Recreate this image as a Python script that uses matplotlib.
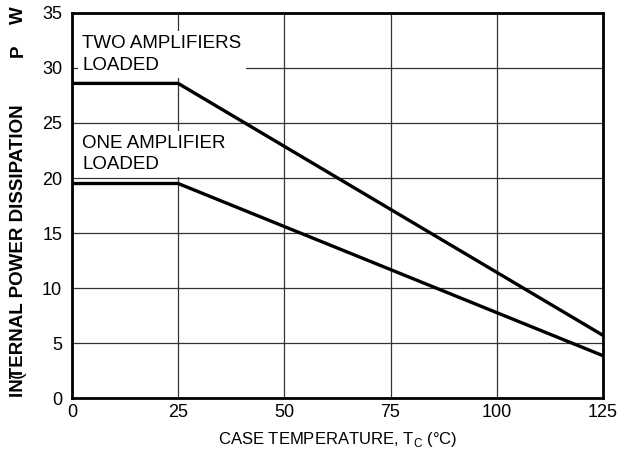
import numpy as np
import matplotlib.pyplot as plt

plt.rcParams['font.family'] = ['Liberation Sans', 'DejaVu Sans']

# case temperature (°C) and power dissipation (W)
temp = [0, 25, 125]
two_amps = [28.6, 28.6, 5.7]
one_amp = [19.5, 19.5, 3.85]

xticks = [0, 25, 50, 75, 100, 125]
yticks = [0, 5, 10, 15, 20, 25, 30, 35]

fig = plt.figure(figsize=(6.28, 4.54), dpi=100)
ax = fig.add_axes([0.1146, 0.1233, 0.8455, 0.8481])

ax.set_xlim(0, 125)
ax.set_ylim(0, 35)
ax.set_xticks(xticks)
ax.set_yticks(yticks)
ax.grid(True, color='#333333', linewidth=0.9, zorder=1)
ax.tick_params(length=0, labelsize=13)
ax.tick_params(axis='y', pad=7)
ax.tick_params(axis='x', pad=4)
for s in ax.spines.values():
    s.set_linewidth(2.0)

ax.plot(temp, two_amps, color='black', linewidth=2.4, zorder=3, solid_capstyle='butt')
ax.plot(temp, one_amp, color='black', linewidth=2.4, zorder=3, solid_capstyle='butt')

box = dict(facecolor='white', edgecolor='none', pad=3)
ax.text(2.4, 33.0, 'TWO AMPLIFIERS\nLOADED', fontsize=13.5, ha='left', va='top',
        linespacing=1.38, bbox=box, zorder=2)
ax.text(2.4, 23.9, 'ONE AMPLIFIER\nLOADED', fontsize=13.5, ha='left', va='top',
        linespacing=1.3, bbox=box, zorder=2)

ax.set_xlabel('CASE TEMPERATURE, T$_\\mathregular{C}$ (°C)', fontsize=12, labelpad=7)

# garbled vertical label as it appears on the sheet
fig.text(0.029, 0.126, 'INTERNAL POWER DISSIPATION', rotation=90, fontsize=13.5,
         fontweight='bold', ha='center', va='bottom')
fig.text(0.029, 0.888, 'P', rotation=90, fontsize=13.5, fontweight='bold',
         ha='center', va='center')
fig.text(0.029, 0.967, 'W', rotation=90, fontsize=13.5, fontweight='bold',
         ha='center', va='center')
fig.text(0.027, 0.175, '(', rotation=90, fontsize=14, ha='center', va='center')

fig.savefig('out.png', dpi=100)
